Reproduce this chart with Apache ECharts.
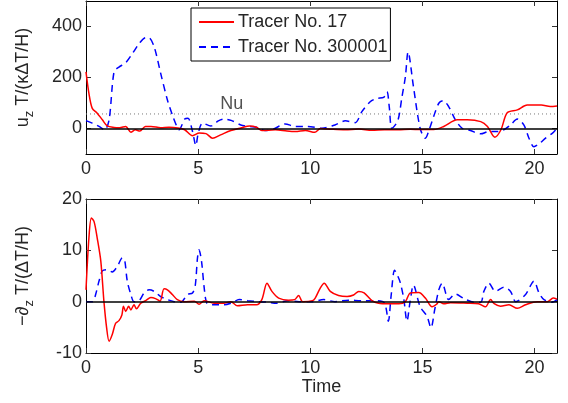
<!DOCTYPE html>
<html>
<head>
<meta charset="utf-8">
<script src="https://cdn.jsdelivr.net/npm/echarts@6/dist/echarts.min.js"></script>
<style>html,body{margin:0;padding:0;background:#fff;}#c{width:568px;height:403px;}</style>
</head>
<body>
<div id="c"></div>
<script>
// ---- data ----
var seriesNames = ['Tracer No. 17', 'Tracer No. 300001'];
var xTicks = [0, 5, 10, 15, 20];
var topYTicks = [0, 200, 400];
var botYTicks = [-10, 0, 10, 20];
var nuValue = 57;

var topRedT = [0,0.13,0.28,0.5,0.73,0.95,1.25,1.5,1.77,2.0,2.2,2.4,2.65,2.9,3.33,3.7,4.1,4.4,4.75,5.05,5.35,5.64,6.0,6.46,6.9,7.3,7.6,7.84,8.44,8.96,9.33,9.78,10.2,10.45,10.96,11.56,12.16,12.75,13.3,13.93,14.46,14.9,15.5,15.95,16.55,17.0,17.6,17.9,18.23,18.5,18.78,19.23,19.67,20.3,20.7,21];
var topRedV = [222,138,79,60,34,10,4,3,8,-15,-5,-10,8,8,3,5,2,-5,-28,-18,-20,-38,-25,-8,2,10,5,-8,-5,-10,-12,-8,-15,0,-3,-5,-2,-7,-5,-5,-3,-4,-4,8,34,34,27,8,-34,-5,62,73,92,92,86,88];

var topBlueT = [0,0.28,0.58,0.83,1.03,1.25,1.47,1.77,2.07,2.37,2.66,2.8,3.04,3.33,3.63,3.85,4.05,4.15,4.4,4.55,4.75,4.9,5.0,5.2,5.57,5.9,6.16,6.5,6.9,7.27,7.6,7.99,8.36,8.88,9.33,9.9,10.52,11.1,11.56,12.0,12.3,12.67,12.97,13.27,13.42,13.52,13.64,13.9,14.09,14.24,14.36,14.6,14.9,15.13,15.3,15.5,15.73,15.92,16.17,16.47,16.77,17.14,17.6,17.96,18.33,18.63,18.93,19.23,19.52,19.75,19.97,20.2,20.49,20.8,21];
var topBlueV = [31,21,8,-5,34,222,241,258,294,333,356,356,320,216,112,53,8,-5,37,40,-12,-67,-20,21,10,30,37,31,14,8,5,-8,-2,18,8,8,1,14,30,23,66,105,118,122,144,86,1,30,125,203,300,164,0,-38,-5,47,99,109,86,34,1,-8,-21,-12,-12,-5,14,37,14,-38,-72,-60,-38,-18,1];

var botRedT = [0,0.13,0.24,0.36,0.5,0.66,0.8,0.92,1.03,1.17,1.32,1.47,1.6,1.67,1.77,1.9,2.0,2.14,2.25,2.44,2.66,2.89,3.1,3.3,3.48,3.63,3.85,4.07,4.37,4.83,5.04,5.27,5.71,6.16,6.46,6.75,7.2,7.6,7.84,8.07,8.29,8.59,9.03,9.3,9.48,9.66,10.1,10.22,10.45,10.62,10.89,11.26,11.64,11.93,12.16,12.4,12.75,13.04,13.5,13.95,14.24,14.46,14.84,15.13,15.43,15.63,15.73,15.95,16.25,17.0,17.5,17.81,18.04,18.2,18.48,18.86,19.23,19.6,20.12,20.57,20.83,21];
var botRedV = [2.3,12.4,16.3,15.6,12.4,7.9,0,-5.1,-7.7,-6.4,-4.2,-3.7,-2.6,-0.9,-1.9,-0.9,-1.6,-0.6,-1.4,-0.3,0.2,0.8,0.6,0.1,2.5,2.3,1.4,0.4,0,0.1,-0.5,0.2,-0.3,-0.3,0,-0.8,-0.6,-0.6,0.4,3.6,2.0,0.7,0.3,0.4,1.2,0,0.2,0.7,2.7,3.6,2.0,1.2,1.0,1.3,2.0,1.7,0.2,-0.3,-0.4,-0.4,0,1.7,1.8,0.7,-1.0,-0.5,0,-0.4,-0.2,-0.3,-0.4,-1.0,0.4,-0.4,-0.9,-0.6,-1.3,-0.6,0,0,0.7,0.5];

var botBlueT = [0,0.3,0.43,0.58,0.73,0.95,1.17,1.4,1.62,1.72,1.84,2.0,2.14,2.37,2.59,2.81,3.04,3.33,3.63,3.93,4.23,4.52,4.75,4.87,4.97,5.04,5.15,5.27,5.39,5.64,6.16,6.53,6.83,7.2,7.7,8.1,8.5,9.0,9.5,10.1,10.6,11.1,11.7,12.3,12.9,13.3,13.48,13.6,13.76,13.9,14.02,14.17,14.31,14.45,14.6,14.9,15.2,15.38,15.55,15.73,15.88,16.17,16.47,16.85,17.3,17.6,17.74,17.96,18.26,18.63,18.93,19.16,19.6,19.97,20.2,20.42,20.8,21];
var botBlueV = [0,0,1.4,4.0,6.0,6.2,5.8,6.9,8.5,8.2,4.0,1.4,0,0.2,1.7,2.3,2.0,1.0,0.4,0,-0.1,1.4,1.7,3.1,8.5,10.1,7.9,2.7,-0.3,-0.6,-0.6,-0.2,0.4,0.2,0,-0.1,-0.3,0.2,0,0,0.4,0,0.3,0.2,0.2,-0.2,-3.8,1.0,6.1,5.0,3.6,0.5,-3.8,0,3.2,-1.0,-2.8,-5.1,-1.5,2.3,3.6,0.4,1.5,0.6,-0.1,-0.1,2.0,3.6,2.0,2.8,2.0,0,1.4,4.0,1.7,0.4,-0.1,0.4];

function pairs(t, v) { return t.map(function (x, i) { return [x, v[i]]; }); }

// ---- chart ----
var FONT = '"Liberation Sans", Arial, Helvetica, sans-serif';
var TXT = '#262626';
var FS = 18;
var chart = echarts.init(document.getElementById('c'), null, { renderer: 'canvas' });

function xAx(grid, pos, labels, name) {
  return {
    type: 'value', gridIndex: grid, position: pos, min: 0, max: 21,
    axisLine: { show: true, onZero: false, lineStyle: { color: '#000', width: 1 } },
    axisTick: { show: true, inside: true, length: 5, customValues: xTicks, lineStyle: { color: '#333' } },
    axisLabel: { show: labels, margin: 6, customValues: xTicks, color: TXT, fontSize: FS, fontFamily: FONT },
    splitLine: { show: false },
    name: name || '', nameLocation: 'middle', nameGap: 23,
    nameTextStyle: { color: TXT, fontSize: FS, fontFamily: FONT }
  };
}
function yAx(grid, pos, labels, min, max, ticks, name) {
  var a = {
    type: 'value', gridIndex: grid, position: pos, min: min, max: max,
    axisLine: { show: true, onZero: false, lineStyle: { color: '#000', width: 1 } },
    axisTick: { show: true, inside: true, length: 5, customValues: ticks, lineStyle: { color: '#333' } },
    axisLabel: { show: labels, margin: 4, customValues: ticks, color: TXT, fontSize: FS, fontFamily: FONT },
    splitLine: { show: false }
  };
  if (name) {
    a.name = name; a.nameLocation = 'middle'; a.nameGap = 50;
    a.nameTextStyle = {
      color: TXT, fontFamily: FONT,
      rich: {
        n: { fontSize: FS, lineHeight: 26, color: TXT, fontFamily: FONT },
        s: { fontSize: 13, lineHeight: 13, verticalAlign: 'bottom', color: TXT, fontFamily: FONT }
      }
    };
  }
  return a;
}

var zeroLine = {
  silent: true, symbol: ['none', 'none'], label: { show: false },
  lineStyle: { color: '#000', type: 'solid', width: 1.5 },
  data: [{ yAxis: 0 }]
};

var option = {
  backgroundColor: '#fff',
  animation: false,
  grid: [
    { left: 86, right: 11, top: 1, height: 153 },
    { left: 86, right: 11, top: 199, height: 154 }
  ],
  xAxis: [
    xAx(0, 'bottom', true),
    xAx(0, 'top', false),
    xAx(1, 'bottom', true, 'Time'),
    xAx(1, 'top', false)
  ],
  yAxis: [
    yAx(0, 'left', true, -100, 500, topYTicks, '{n|u}{s|z}{n| T/(κΔT/H)}'),
    yAx(0, 'right', false, -100, 500, topYTicks),
    yAx(1, 'left', true, -10, 20, botYTicks, '{n|−∂}{s|z}{n| T/(ΔT/H)}'),
    yAx(1, 'right', false, -10, 20, botYTicks)
  ],
  legend: {
    data: seriesNames,
    orient: 'vertical', left: 191, top: 8,
    itemWidth: 35, itemHeight: 14, itemGap: 7,
    padding: [5, 3, 5, 7],
    itemStyle: { opacity: 0 },
    backgroundColor: '#fff', borderColor: '#000', borderWidth: 1,
    textStyle: { color: TXT, fontSize: FS, fontFamily: FONT, padding: [0, 0, 0, -1] }
  },
  series: [
    {
      name: 'Nu', type: 'line', xAxisIndex: 0, yAxisIndex: 0, symbol: 'none', silent: true,
      data: [[0, nuValue], [21, nuValue]],
      lineStyle: { color: '#777', type: [1, 3], width: 1 }, z: 1
    },
    {
      name: 'NuLabel', type: 'scatter', xAxisIndex: 0, yAxisIndex: 0, symbolSize: 0, silent: true,
      data: [[6.5, nuValue]],
      label: { show: true, position: 'top', distance: 1, formatter: 'Nu', color: TXT, fontSize: FS, fontFamily: FONT }
    },
    {
      name: seriesNames[0], type: 'line', xAxisIndex: 0, yAxisIndex: 0, symbol: 'none', smooth: 0.3,
      data: pairs(topRedT, topRedV), color: '#ff0000',
      lineStyle: { color: '#ff0000', width: 1.5 }, z: 3, markLine: zeroLine
    },
    {
      name: seriesNames[1], type: 'line', xAxisIndex: 0, yAxisIndex: 0, symbol: 'none', smooth: 0.3,
      data: pairs(topBlueT, topBlueV), color: '#0000ff',
      lineStyle: { color: '#0000ff', width: 1.5, type: [7, 5] }, z: 2
    },
    {
      name: seriesNames[0], type: 'line', xAxisIndex: 2, yAxisIndex: 2, symbol: 'none', smooth: 0.3,
      data: pairs(botRedT, botRedV), color: '#ff0000',
      lineStyle: { color: '#ff0000', width: 1.5 }, z: 3, markLine: zeroLine
    },
    {
      name: seriesNames[1], type: 'line', xAxisIndex: 2, yAxisIndex: 2, symbol: 'none', smooth: 0.3,
      data: pairs(botBlueT, botBlueV), color: '#0000ff',
      lineStyle: { color: '#0000ff', width: 1.5, type: [7, 5] }, z: 2
    }
  ]
};
chart.setOption(option);
</script>
</body>
</html>
